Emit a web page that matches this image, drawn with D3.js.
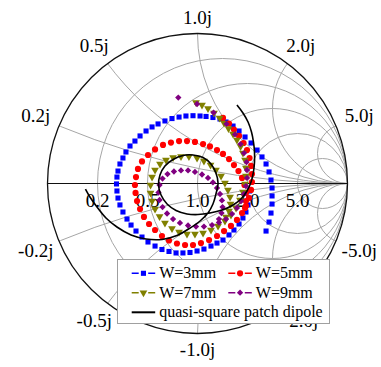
<!DOCTYPE html>
<html>
<head>
<meta charset="utf-8">
<script src="https://cdn.jsdelivr.net/npm/d3@7"></script>
<style>
  body { margin: 0; background: #fff; }
  svg { display: block; }
  text { font-family: "Liberation Serif", "Times New Roman", serif; fill: #000; }
</style>
</head>
<body>
<svg width="381" height="367"></svg>
<script>
// grid values of the Smith chart
const resistance = [0.2, 0.5, 1, 2, 5];
const reactance = [0.2, 0.5, 1, 2, 5];
const resistanceLabels = ["0.2", "0.5", "1.0", "2.0", "5.0"];
const reactanceLabels = ["0.2j", "0.5j", "1.0j", "2.0j", "5.0j"];
const seriesNames = ["W=3mm", "W=5mm", "W=7mm", "W=9mm", "quasi-square patch dipole"];

// reflection coefficient [re, im]
const w3 = [[0.457,-0.317],[0.477,-0.257],[0.490,-0.197],[0.497,-0.137],[0.497,-0.083],[0.497,-0.030],
  [0.490,0.023],[0.477,0.077],[0.457,0.130],[0.430,0.177],[0.397,0.223],[0.357,0.270],[0.317,0.310],
  [0.277,0.350],[0.237,0.383],[0.190,0.410],[0.150,0.430],[0.103,0.440],[0.057,0.447],[0.017,0.450],
  [-0.030,0.452],[-0.077,0.450],[-0.123,0.443],[-0.170,0.433],[-0.217,0.417],[-0.263,0.397],[-0.303,0.377],
  [-0.343,0.350],[-0.383,0.317],[-0.417,0.283],[-0.450,0.250],[-0.477,0.210],[-0.497,0.170],[-0.517,0.130],
  [-0.530,0.083],[-0.537,0.043],[-0.540,-0.003],[-0.537,-0.050],[-0.530,-0.097],[-0.517,-0.143],[-0.497,-0.190],
  [-0.470,-0.237],[-0.443,-0.277],[-0.410,-0.317],[-0.370,-0.357],[-0.330,-0.390],[-0.283,-0.417],[-0.237,-0.440],
  [-0.190,-0.453],[-0.143,-0.463],[-0.097,-0.463],[-0.050,-0.460],[-0.003,-0.450],[0.043,-0.437],[0.090,-0.417],
  [0.130,-0.397],[0.170,-0.377],[0.210,-0.343],[0.243,-0.310],[0.277,-0.270],[0.303,-0.230],[0.323,-0.190],
  [0.337,-0.143],[0.343,-0.097],[0.347,-0.050]];

const w5 = [[0.170,0.437],[0.210,0.400],[0.243,0.360],[0.277,0.317],[0.307,0.270],[0.330,0.223],[0.347,0.170],
  [0.357,0.117],[0.363,0.063],[0.363,0.010],[0.357,-0.043],[0.343,-0.097],[0.323,-0.150],[0.297,-0.197],
  [0.263,-0.243],[0.223,-0.283],[0.177,-0.317],[0.130,-0.350],[0.077,-0.377],[0.023,-0.397],[-0.030,-0.410],
  [-0.083,-0.410],[-0.137,-0.400],[-0.190,-0.380],[-0.237,-0.350],[-0.283,-0.310],[-0.323,-0.270],[-0.357,-0.223],
  [-0.383,-0.170],[-0.403,-0.117],[-0.413,-0.063],[-0.417,-0.010],[-0.410,0.043],[-0.397,0.097],[-0.370,0.147],
  [-0.330,0.190],[-0.283,0.227],[-0.230,0.257],[-0.177,0.273],[-0.123,0.283],[-0.070,0.283],[-0.017,0.277],
  [0.037,0.263],[0.083,0.247],[0.130,0.223],[0.170,0.197],[0.210,0.163],[0.243,0.123],[0.273,0.083],
  [0.297,0.037],[0.313,-0.010],[0.323,-0.063],[0.323,-0.117],[0.317,-0.163]];

const w7 = [[-0.010,0.540],[0.030,0.523],[0.070,0.500],[0.110,0.470],[0.147,0.437],[0.177,0.403],[0.207,0.367],
  [0.237,0.330],[0.263,0.290],[0.287,0.247],[0.303,0.203],[0.317,0.157],[0.323,0.103],[0.323,0.050],
  [0.317,-0.003],[0.303,-0.057],[0.283,-0.110],[0.257,-0.163],[0.223,-0.210],[0.183,-0.250],[0.137,-0.283],
  [0.090,-0.310],[0.037,-0.330],[-0.017,-0.337],[-0.070,-0.337],[-0.123,-0.323],[-0.170,-0.300],[-0.217,-0.263],
  [-0.253,-0.220],[-0.283,-0.170],[-0.303,-0.117],[-0.313,-0.063],[-0.313,-0.010],[-0.303,0.043],[-0.283,0.090],
  [-0.250,0.130],[-0.210,0.157],[-0.163,0.173],[-0.110,0.180],[-0.057,0.180],[-0.003,0.170],[0.043,0.150],
  [0.087,0.123],[0.123,0.090],[0.157,0.050],[0.183,0.003],[0.203,-0.043],[0.217,-0.090],[0.220,-0.137],
  [0.210,-0.183],[0.190,-0.223]];

const w9 = [[-0.128,0.573],[-0.003,0.530],[0.107,0.473],[0.193,0.397],[0.250,0.327],[0.287,0.263],[0.310,0.203],
  [0.327,0.143],[0.330,0.090],[0.330,0.037],[0.323,-0.017],[0.310,-0.070],[0.290,-0.117],[0.263,-0.163],
  [0.230,-0.203],[0.190,-0.237],[0.143,-0.260],[0.097,-0.277],[0.043,-0.287],[-0.010,-0.287],[-0.063,-0.280],
  [-0.117,-0.263],[-0.163,-0.237],[-0.203,-0.200],[-0.233,-0.157],[-0.253,-0.110],[-0.260,-0.060],[-0.253,-0.010],
  [-0.233,0.033],[-0.200,0.063],[-0.157,0.080],[-0.110,0.087],[-0.063,0.087],[-0.017,0.077],[0.030,0.060],
  [0.070,0.037],[0.103,0.007],[0.130,-0.030],[0.150,-0.070],[0.163,-0.113],[0.167,-0.157],[0.160,-0.197],
  [0.143,-0.237]];

const dipole = [[0.263,0.523],[0.303,0.470],[0.337,0.410],[0.360,0.343],[0.373,0.277],[0.380,0.210],[0.380,0.143],
  [0.373,0.077],[0.357,0.010],[0.330,-0.050],[0.290,-0.103],[0.237,-0.143],[0.163,-0.177],[0.083,-0.197],
  [0.003,-0.207],[-0.070,-0.203],[-0.143,-0.180],[-0.203,-0.137],[-0.243,-0.077],[-0.260,-0.010],[-0.250,0.057],
  [-0.217,0.117],[-0.163,0.160],[-0.097,0.187],[-0.030,0.190],[0.037,0.173],[0.090,0.130],[0.123,0.070],
  [0.137,0.003],[0.123,-0.070],[0.103,-0.137],[0.070,-0.197],[0.017,-0.250],[-0.050,-0.297],[-0.137,-0.347],
  [-0.237,-0.373],[-0.343,-0.370],[-0.443,-0.343],[-0.537,-0.290],[-0.610,-0.230],[-0.670,-0.157],
  [-0.717,-0.090],[-0.747,-0.037]];

const svg = d3.select("svg");
const cx = 197.5, cy = 183.5, R = 150;
const x = d3.scaleLinear().domain([-1, 1]).range([cx - R, cx + R]);
const y = d3.scaleLinear().domain([-1, 1]).range([cy + R, cy - R]);

svg.append("clipPath").attr("id", "unit")
  .append("circle").attr("cx", x(0)).attr("cy", y(0)).attr("r", x(1) - x(0));

const grid = svg.append("g")
  .attr("clip-path", "url(#unit)")
  .attr("fill", "none")
  .attr("stroke", "#a6a6a6")
  .attr("stroke-width", 1);

grid.selectAll("circle.r")
  .data(resistance).enter()
  .append("circle")
  .attr("class", "r")
  .attr("cx", r => x(r / (1 + r)))
  .attr("cy", y(0))
  .attr("r", r => x(1 / (1 + r)) - x(0));

const arcs = reactance.flatMap(v => [v, -v]);
grid.selectAll("circle.x")
  .data(arcs).enter()
  .append("circle")
  .attr("class", "x")
  .attr("cx", x(1))
  .attr("cy", v => y(1 / v))
  .attr("r", v => x(1 / Math.abs(v)) - x(0));

svg.append("line")
  .attr("x1", x(-1)).attr("x2", x(1))
  .attr("y1", y(0)).attr("y2", y(0))
  .attr("stroke", "#111").attr("stroke-width", 1.2);

svg.append("circle")
  .attr("cx", x(0)).attr("cy", y(0)).attr("r", x(1) - x(0))
  .attr("fill", "none").attr("stroke", "#111").attr("stroke-width", 1.3);

// labels on the real axis
svg.append("g").selectAll("text")
  .data(resistance).enter()
  .append("text")
  .attr("x", r => x((r - 1) / (r + 1)))
  .attr("y", y(0) + 23)
  .attr("text-anchor", "middle")
  .attr("font-size", 19)
  .text((r, i) => resistanceLabels[i]);

// labels round the rim
const rimLabels = reactance.flatMap((v, i) => [
  { v: v, text: reactanceLabels[i] },
  { v: -v, text: "-" + reactanceLabels[i] }
]);
svg.append("g").selectAll("text")
  .data(rimLabels).enter()
  .append("text")
  .attr("text-anchor", "middle")
  .attr("font-size", 19)
  .attr("x", d => {
    const a = Math.PI - 2 * Math.atan(Math.abs(d.v));
    return cx + (R + 16 + 10 * Math.abs(Math.cos(a))) * Math.cos(a);
  })
  .attr("y", d => {
    const a = Math.PI - 2 * Math.atan(Math.abs(d.v));
    const s = d.v > 0 ? -1 : 1;
    return cy + s * (R + 16 + 10 * Math.abs(Math.cos(a))) * Math.sin(a) + 6;
  })
  .text(d => d.text);

const series = [
  { data: w3, color: "#0000ff", shape: "square" },
  { data: w5, color: "#ff0000", shape: "circle" },
  { data: w7, color: "#808000", shape: "triangle" },
  { data: w9, color: "#800080", shape: "diamond" }
];

function marker(g, shape, color) {
  if (shape === "square") {
    g.append("path").attr("d", d3.symbol(d3.symbolSquare, 26)()).attr("fill", color);
  } else if (shape === "circle") {
    g.append("path").attr("d", d3.symbol(d3.symbolCircle, 30)()).attr("fill", color);
  } else if (shape === "triangle") {
    g.append("path").attr("d", d3.symbol(d3.symbolTriangle, 26)())
      .attr("transform", "rotate(180)").attr("fill", color);
  } else {
    g.append("path").attr("d", d3.symbol(d3.symbolSquare, 20)())
      .attr("transform", "rotate(45)").attr("fill", color);
  }
}

series.forEach(s => {
  svg.append("g").selectAll("g")
    .data(s.data).enter()
    .append("g")
    .attr("transform", d => `translate(${x(d[0])},${y(d[1])})`)
    .each(function() { marker(d3.select(this), s.shape, s.color); });
});

const line = d3.line()
  .x(d => x(d[0]))
  .y(d => y(d[1]))
  .curve(d3.curveCatmullRom);

svg.append("path")
  .datum(dipole)
  .attr("d", line)
  .attr("fill", "none")
  .attr("stroke", "#000")
  .attr("stroke-width", 1.6);

// legend
const legend = svg.append("g");
legend.append("rect")
  .attr("x", 117.5).attr("y", 259.5)
  .attr("width", 212).attr("height", 64)
  .attr("fill", "#fff").attr("stroke", "#a0a0a0").attr("stroke-width", 1);

const rows = [273.3, 292.7, 312.3];
const cols = [131.7, 228.3];
seriesNames.forEach((name, i) => {
  const lx = i < 4 ? cols[i % 2] : cols[0];
  const ly = i < 4 ? rows[Math.floor(i / 2)] : rows[2];
  const g = legend.append("g");
  if (i < 4) {
    g.append("line")
      .attr("x1", lx).attr("x2", lx + 23.5)
      .attr("y1", ly).attr("y2", ly)
      .attr("stroke", series[i].color).attr("stroke-width", 1.5)
      .attr("stroke-dasharray", "7 9.5 7");
    const m = g.append("g").attr("transform", `translate(${lx + 11.75},${ly})`);
    marker(m, series[i].shape, series[i].color);
  } else {
    g.append("line")
      .attr("x1", lx).attr("x2", lx + 23.5)
      .attr("y1", ly).attr("y2", ly)
      .attr("stroke", "#000").attr("stroke-width", 2);
  }
  g.append("text")
    .attr("x", lx + 27.5)
    .attr("y", ly + 5)
    .attr("font-size", 16)
    .text(name);
});
</script>
</body>
</html>
